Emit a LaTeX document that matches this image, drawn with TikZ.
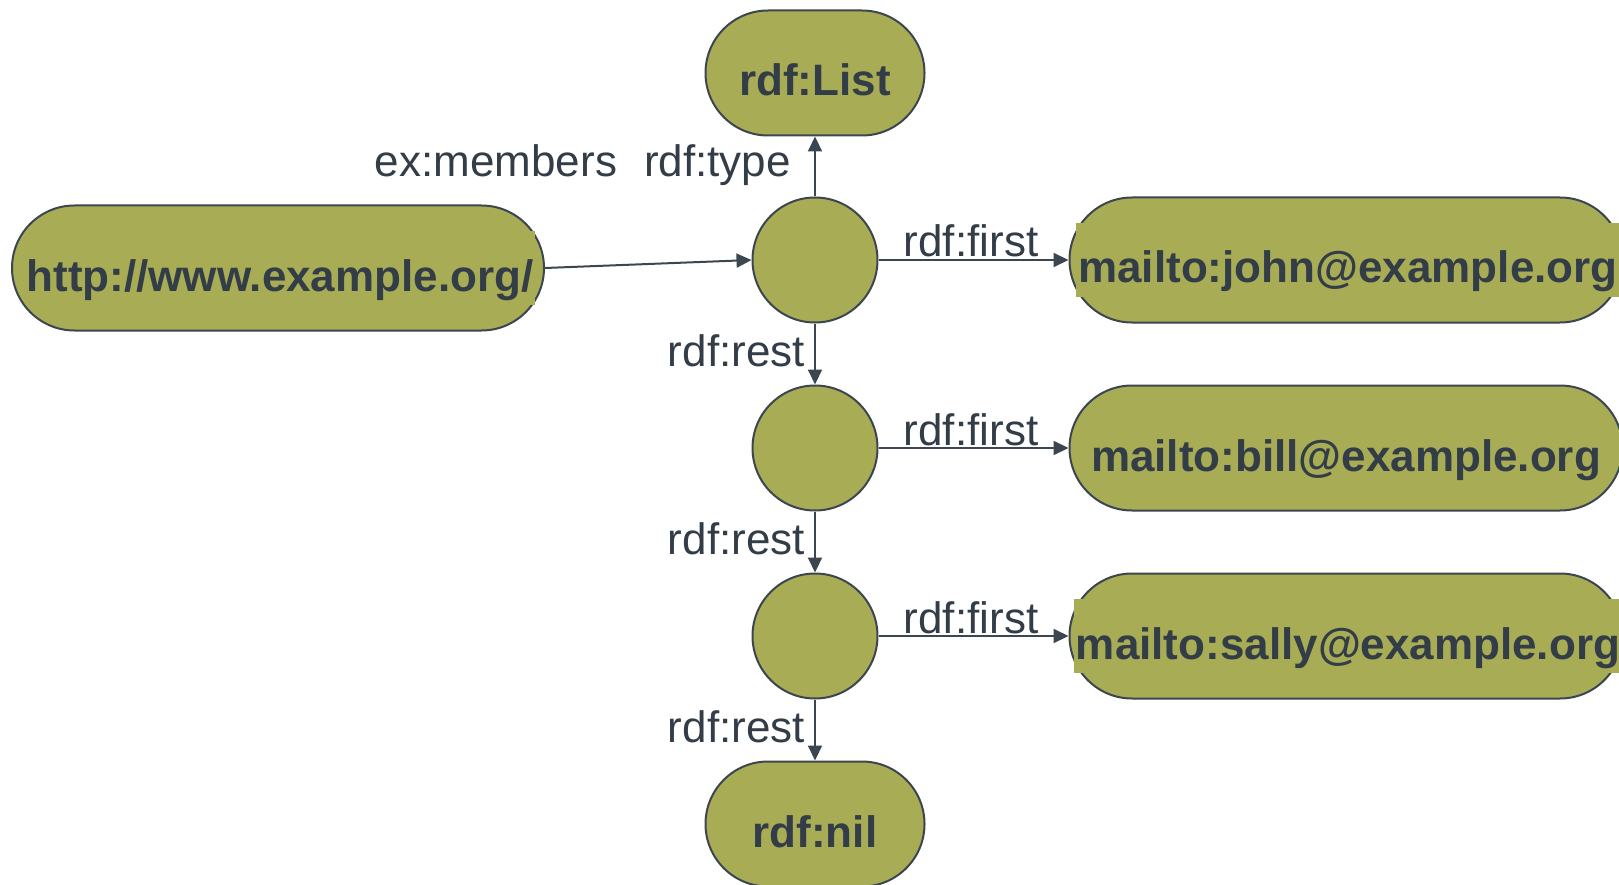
\documentclass[tikz,border=0pt]{standalone}
\usepackage{fontspec}
\setmainfont{Liberation Sans}
\usetikzlibrary{arrows.meta,shapes.misc}
\definecolor{olivefill}{HTML}{A8AC55}
\definecolor{edgec}{HTML}{3B4650}
\definecolor{txtc}{HTML}{333D47}
\begin{document}
\begin{tikzpicture}[x=1pt,y=-1pt,
  res/.style={rounded rectangle, draw=edgec, fill=olivefill, line width=2pt, minimum height=125pt, inner sep=0pt},
  bnode/.style={circle, draw=edgec, fill=olivefill, line width=2pt, minimum size=125pt, inner sep=0pt},
  big/.style={font=\fontsize{44}{50}\selectfont\bfseries, text=txtc, text height=46pt, text depth=0pt},
  ovl/.style={big, fill=olivefill, inner xsep=2pt, inner ysep=14pt},
  lbl/.style={font=\fontsize{44}{50}\selectfont, text=txtc, inner sep=0pt},
  arr/.style={draw=edgec, line width=2pt, -{Triangle[length=15pt,width=14pt]}}
]
\useasboundingbox (0,0) rectangle (1619,885);
\clip (0,0) rectangle (1619,885);

% shapes
\node[res, big, minimum width=219pt] (list) at (815,73) {rdf:List};
\node[res, minimum width=532pt] (http) at (278,268) {};
\node[ovl] (httpT) at ([xshift=2pt]http.center) {http://www.example.org/};

\node[bnode] (b1) at (815,260) {};
\node[bnode] (b2) at (815,448) {};
\node[bnode] (b3) at (815,636) {};

\node[res, minimum width=553pt] (m1) at (1346,260) {};
\node[ovl] (m1T) at ([xshift=2pt]m1.center) {mailto:john@example.org};
\node[res, big, minimum width=553pt] (m2) at (1346,448) {mailto:bill@example.org};
\node[res, minimum width=553pt] (m3) at (1346,636) {};
\node[ovl] (m3T) at ([xshift=2pt]m3.center) {mailto:sally@example.org};

\node[res, big, minimum width=219pt] (nil) at (815,824) {rdf:nil};

% connectors
\draw[arr] (http.east) -- (b1.west);
\draw[arr] (b1.north) -- (list.south);
\draw[arr] (b1.east) -- (m1.west);
\draw[arr] (b2.east) -- (m2.west);
\draw[arr] (b3.east) -- (m3.west);
\draw[arr] (b1.south) -- (b2.north);
\draw[arr] (b2.south) -- (b3.north);
\draw[arr] (b3.south) -- (nil.north);

% labels
\node[lbl, anchor=base] (lmem) at (496,177) {ex:members};
\node[lbl, anchor=base east] (ltype) at (791,177) {rdf:type};
\node[lbl, anchor=base] (lf1) at (971,257) {rdf:first};
\node[lbl, anchor=base] (lf2) at (971,445) {rdf:first};
\node[lbl, anchor=base] (lf3) at (971,633) {rdf:first};
\node[lbl, anchor=base east] (lr1) at (805,366) {rdf:rest};
\node[lbl, anchor=base east] (lr2) at (805,554) {rdf:rest};
\node[lbl, anchor=base east] (lr3) at (805,742) {rdf:rest};
\end{tikzpicture}
\end{document}
